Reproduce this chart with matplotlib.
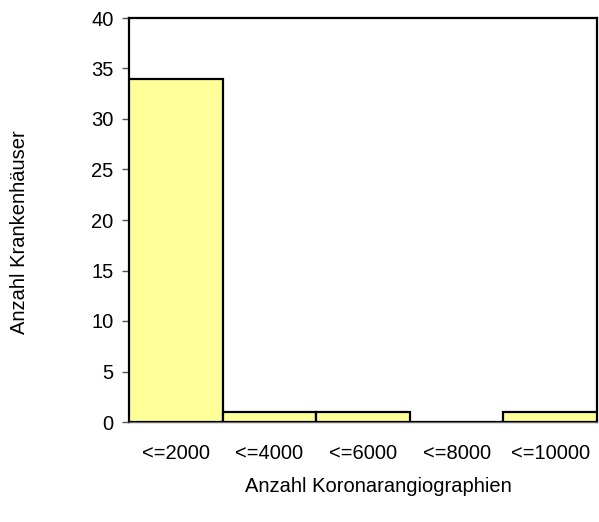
import matplotlib.pyplot as plt
import matplotlib as mpl

mpl.rcParams['font.family'] = ['Liberation Sans', 'DejaVu Sans']

# data
categories = ["<=2000", "<=4000", "<=6000", "<=8000", "<=10000"]
counts = [34, 1, 1, 0, 1]
y_ticks = [0, 5, 10, 15, 20, 25, 30, 35, 40]

W, H = 599, 522
fig = plt.figure(figsize=(W / 100, H / 100), dpi=100)
ax = fig.add_axes([129 / W, 1 - 422 / H, 468 / W, 404 / H])

ax.bar(range(len(categories)), counts, width=1.0,
       color="#FFFF99", edgecolor="black", linewidth=1.6, zorder=3)

ax.set_xlim(-0.5, len(categories) - 0.5)
ax.set_ylim(0, 40)
ax.set_yticks(y_ticks)
ax.set_xticks(range(len(categories)))
ax.set_xticklabels(categories)

ax.tick_params(axis="x", length=0, pad=16, labelsize=14.5)
ax.tick_params(axis="y", length=5, width=1, color="#555555", pad=6, labelsize=14.5)

for side in ["left", "top", "right"]:
    ax.spines[side].set_linewidth(1.6)
    ax.spines[side].set_color("black")
ax.spines["bottom"].set_linewidth(1)
ax.spines["bottom"].set_color("#666666")

# axis titles placed where the reference has them
fig.text(378 / W, 1 - 486 / H, "Anzahl Koronarangiographien",
         fontsize=14.5, ha="center", va="center")
fig.text(20 / W, 1 - 232 / H, "Anzahl Krankenhäuser",
         fontsize=14.5, ha="center", va="center", rotation=90)

plt.savefig("out.png", dpi=100)
